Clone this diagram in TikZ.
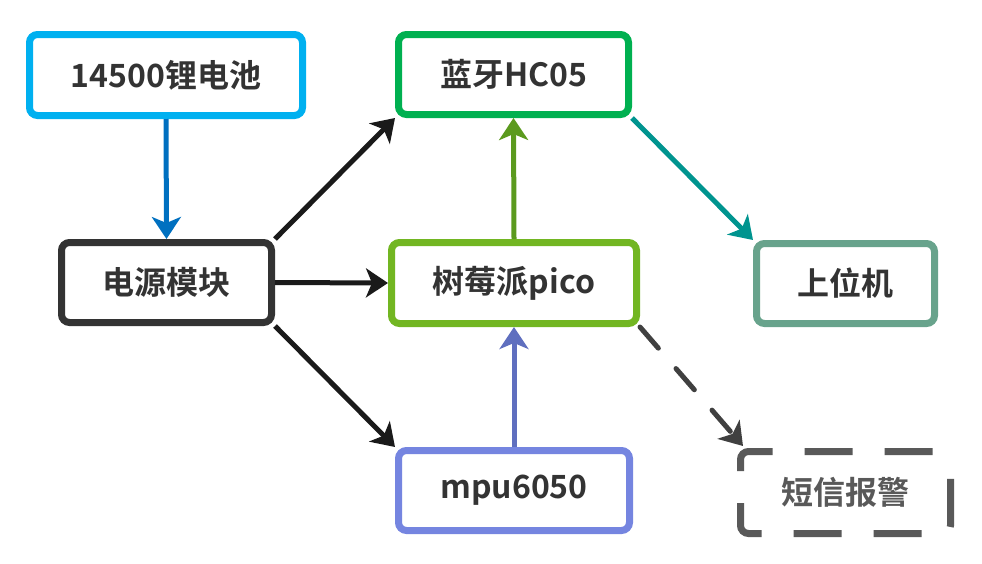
\documentclass[tikz,border=0pt]{standalone}
\usepackage{fontspec}
\setmainfont{Noto Sans CJK SC}[BoldFont={* Bold}]
\usetikzlibrary{arrows.meta}
\definecolor{txt}{HTML}{333333}
\definecolor{cbat}{HTML}{00B0F0}
\definecolor{abat}{HTML}{0070C0}
\definecolor{cpwr}{HTML}{333333}
\definecolor{apwr}{HTML}{1A1A1A}
\definecolor{cbt}{HTML}{00B050}
\definecolor{cpico}{HTML}{72B622}
\definecolor{apico}{HTML}{5B9A1E}
\definecolor{chost}{HTML}{68A38C}
\definecolor{abt}{HTML}{00948F}
\definecolor{cmpu}{HTML}{7585E0}
\definecolor{ampu}{HTML}{5F6FBF}
\definecolor{csms}{HTML}{595959}
\definecolor{asms}{HTML}{404040}
\tikzset{
  box/.style={draw, line width=7pt, rounded corners=8pt, fill=white, inner sep=0pt,
    font=\fontsize{32}{38}\selectfont\bfseries, text=txt},
  conn/.style={line width=5pt, -{Stealth[length=22pt,width=29pt,inset=6pt]}},
}
\begin{document}
\begin{tikzpicture}[x=1pt,y=-1pt]
\useasboundingbox (0,0) rectangle (982,563);
\node[box, draw=cbat, minimum width=273pt, minimum height=81pt] (bat) at (166,75) {14500锂电池};
\node[box, draw=cpwr, minimum width=210pt, minimum height=80pt] (pwr) at (166.5,282.5) {电源模块};
\node[box, draw=cbt, minimum width=230pt, minimum height=80pt] (bt) at (513.5,74.5) {蓝牙HC05};
\node[box, draw=cpico, minimum width=245pt, minimum height=81pt] (pico) at (514,283) {树莓派pico};
\node[box, draw=chost, minimum width=178pt, minimum height=80pt] (host) at (845.5,283.5) {上位机};
\node[box, draw=cmpu, minimum width=231pt, minimum height=80pt] (mpu) at (514,490.5) {mpu6050};
\node[box, draw=csms, dash pattern=on 48pt off 32pt, dash phase=-10pt, minimum width=210pt, minimum height=82pt, text=csms] (sms) at (845.5,492.5) {短信报警};

\draw[conn, abat] (bat.south) -- (pwr.north);
\draw[conn, apwr] (pwr.north east) -- (bt.south west);
\draw[conn, apwr] (pwr.east) -- (pico.west);
\draw[conn, apwr] (pwr.south east) -- (mpu.north west);
\draw[conn, apico] (pico.north) -- (bt.south);
\draw[conn, ampu] (mpu.north) -- (pico.south);
\draw[conn, abt] (bt.south east) -- (host.north west);
\draw[conn, asms, line cap=round, dash pattern=on 28pt off 27pt] (pico.south east) -- ([xshift=6pt,yshift=2pt]sms.north west);
\end{tikzpicture}
\end{document}
